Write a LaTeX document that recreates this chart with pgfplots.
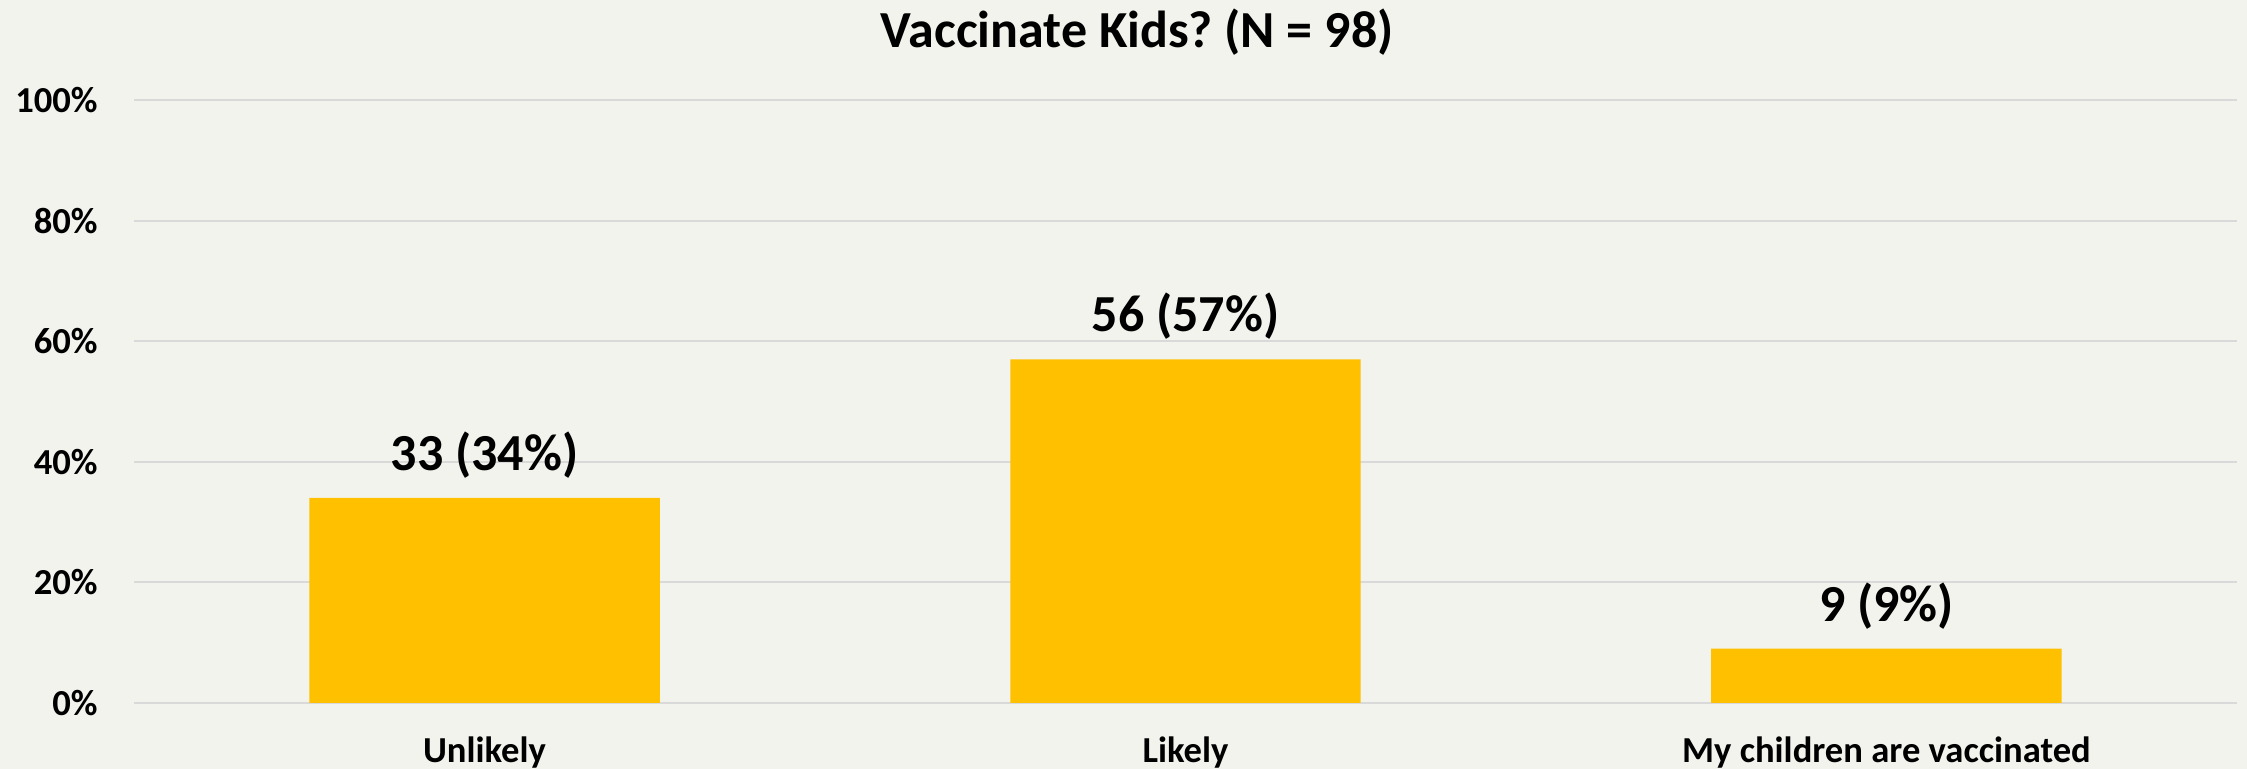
\documentclass[border=0pt]{standalone}
\usepackage{pgfplots}
\pgfplotsset{compat=1.18}
\usepackage{fontspec}
\setmainfont{Carlito}
\frenchspacing
\definecolor{bg}{HTML}{F3F3EE}
\definecolor{gridc}{HTML}{D9D9D9}
\definecolor{barc}{HTML}{FFC000}
\begin{document}
\frenchspacing
\begin{tikzpicture}
\useasboundingbox[fill=bg] (0,0) rectangle (1123.5pt,384.5pt);
\begin{axis}[
  at={(67pt,33pt)}, anchor=south west,
  scale only axis, width=1051.5pt, height=301.5pt,
  xmin=-0.5, xmax=2.5, ymin=0, ymax=100,
  axis line style={draw=none},
  major tick length=0pt,
  xtick={0,1,2},
  xticklabels={Unlikely,Likely,My children are vaccinated},
  ytick={0,20,40,60,80,100},
  yticklabels={0\%,20\%,40\%,60\%,80\%,100\%},
  ymajorgrids,
  major grid style={draw=gridc, line width=1pt},
  tick label style={font=\bfseries\fontsize{18.3}{20}\selectfont, text=black},
  yticklabel style={anchor=east, inner sep=0pt, xshift=-18pt},
  xticklabel style={anchor=base, inner sep=0pt, yshift=-30pt},
  title={Vaccinate Kids? (N = 98)},
  title style={font=\bfseries\fontsize{26}{30}\selectfont, at={(axis description cs:0.477,1)}, anchor=base, yshift=20.3pt, inner sep=0pt},
  ybar, bar width=0.5,
  nodes near coords, point meta=explicit symbolic,
  nodes near coords style={font=\bfseries\fontsize{26}{30}\selectfont, text=black, anchor=base, inner sep=0pt, yshift=13.7pt},
  clip=false,
]
\addplot[fill=barc, draw=none] table[x=x, y=y, meta=label, col sep=comma] {
x,y,label
0,34,33 (34\%)
1,57,56 (57\%)
2,9,9 (9\%)
};
\end{axis}
\end{tikzpicture}
\end{document}
